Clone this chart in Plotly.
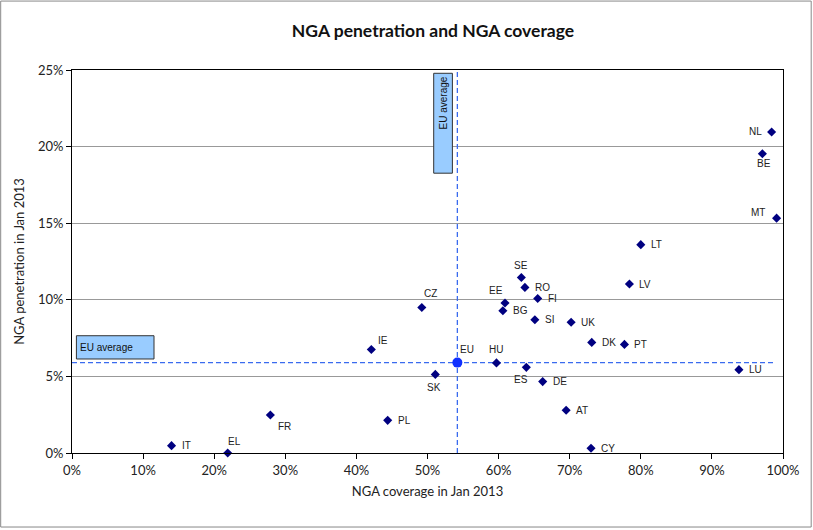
import plotly.graph_objects as go

countries = ["NL", "BE", "MT", "LT", "LV", "SE", "RO", "FI", "EE", "BG", "SI", "UK",
             "DK", "PT", "HU", "ES", "DE", "LU", "SK", "CZ", "IE", "AT", "CY",
             "FR", "PL", "IT", "EL"]
coverage = [98.4, 97.1, 99.1, 80.0, 78.4, 63.2, 63.7, 65.5, 60.9, 60.6, 65.1, 70.2,
            73.1, 77.7, 59.7, 63.9, 66.2, 93.8, 51.1, 49.2, 42.1, 69.5, 73.0,
            27.9, 44.4, 14.0, 21.9]
penetration = [20.95, 19.53, 15.33, 13.6, 11.03, 11.46, 10.81, 10.08, 9.79, 9.29, 8.7, 8.53,
               7.22, 7.09, 5.88, 5.59, 4.66, 5.44, 5.13, 9.5, 6.76, 2.79, 0.31,
               2.48, 2.13, 0.48, 0.0]

eu_label = "EU"
eu_coverage = 54.2
eu_penetration = 5.9
avg_text = "EU average"

title = "NGA penetration and NGA coverage"
x_title = "NGA coverage in Jan 2013"
y_title = "NGA penetration in Jan 2013"

# label placement styles (anchor, x shift px, y shift px); default: right of the point
label_style = {
    "NL": ("right", -8, 1), "BE": ("center", 2, -10), "MT": ("right", -10, 6),
    "SE": ("center", 0, 12), "EE": ("center", -9, 13), "HU": ("center", 0, 13),
    "ES": ("center", -5, -12), "SK": ("center", -1, -13), "CZ": ("center", 9, 14),
    "IE": ("center", 12, 9), "FR": ("center", 14, -11), "EL": ("center", 7, 12),
    "EU": ("center", 10, 13),
}
default_style = ("left", 8, 0)

fig = go.Figure()

dash_color = "#3A6BEF"
fig.add_trace(go.Scatter(x=[0, 98.6], y=[eu_penetration, eu_penetration], mode="lines",
                         line=dict(color=dash_color, width=1.3, dash="5px,3px"),
                         hoverinfo="skip", showlegend=False, cliponaxis=False))
fig.add_trace(go.Scatter(x=[eu_coverage, eu_coverage], y=[0, 25], mode="lines",
                         line=dict(color=dash_color, width=1.3, dash="5px,3px"),
                         hoverinfo="skip", showlegend=False))

fig.add_trace(go.Scatter(
    x=coverage, y=penetration, mode="markers", text=countries,
    marker=dict(symbol="diamond", size=7, color="#000080"),
    showlegend=False, cliponaxis=False))

fig.add_trace(go.Scatter(
    x=[eu_coverage], y=[eu_penetration], mode="markers", text=[eu_label],
    marker=dict(symbol="circle", size=10, color="#1030FF"),
    showlegend=False, cliponaxis=False))

label_font = dict(family="Liberation Sans, Arial", size=10, color="#222222")
annotations = []
for name, xv, yv in list(zip(countries, coverage, penetration)) + [(eu_label, eu_coverage, eu_penetration)]:
    anchor, dx, dy = label_style.get(name, default_style)
    annotations.append(dict(text=name, x=xv, y=yv, xref="x", yref="y",
                            xanchor=anchor, yanchor="middle", xshift=dx, yshift=dy,
                            showarrow=False, font=label_font))

def px_x(p):
    return (p - 72.3) / 711.0

def px_y(p):
    return (453.4 - p) / 383.4

shapes = [
    dict(type="rect", xref="paper", yref="paper", x0=px_x(76.7), x1=px_x(154.3),
         y0=px_y(359.3), y1=px_y(336), fillcolor="#99CCFF",
         line=dict(color="#333333", width=1), layer="above"),
    dict(type="rect", xref="paper", yref="paper", x0=px_x(434), x1=px_x(452.7),
         y0=px_y(173.3), y1=px_y(73.3), fillcolor="#99CCFF",
         line=dict(color="#333333", width=1), layer="above"),
    dict(type="rect", xref="paper", yref="paper", x0=px_x(1), x1=px_x(811.5),
         y0=px_y(527.5), y1=px_y(1), line=dict(color="#888888", width=1)),
]

annotations += [
    dict(text=avg_text, xref="paper", yref="paper", x=px_x(78.5), y=px_y(347.6),
         xanchor="left", yanchor="middle", showarrow=False,
         font=dict(family="Liberation Sans, Arial", size=10, color="#111111")),
    dict(text=avg_text, xref="paper", yref="paper", x=px_x(443.3), y=px_y(75),
         xanchor="center", yanchor="top", textangle=-90, showarrow=False,
         font=dict(family="Liberation Sans, Arial", size=10, color="#111111")),
]

fig.update_layout(
    width=813, height=530,
    margin=dict(l=72, r=30, t=70, b=77),
    paper_bgcolor="white", plot_bgcolor="white",
    title=dict(text="<b>" + title + "</b>", x=433 / 813, xref="container",
               xanchor="center", y=1 - 31 / 530, yanchor="middle",
               font=dict(family="Lato, Open Sans", size=17.5, color="#111111")),
    shapes=shapes, annotations=annotations,
    font=dict(family="Lato, Open Sans", size=13, color="#222222"),
)

fig.update_xaxes(range=[0, 100], dtick=10, ticksuffix="%", showgrid=False,
                 showline=True, linecolor="#000000", linewidth=1, mirror=True,
                 ticks="outside", ticklen=5, tickcolor="#000000", zeroline=False,
                 title=dict(text=x_title, font=dict(size=13), standoff=10))
fig.update_yaxes(range=[0, 25], dtick=5, ticksuffix="%", showgrid=True,
                 gridcolor="#999999", gridwidth=1,
                 showline=True, linecolor="#000000", linewidth=1, mirror=True,
                 ticks="outside", ticklen=5, tickcolor="#000000", zeroline=False,
                 title=dict(text=y_title, font=dict(size=13), standoff=10))

fig.write_html("out.html", config={"displayModeBar": False},
               post_script="document.body.style.margin='0px';document.body.style.overflow='hidden';")
